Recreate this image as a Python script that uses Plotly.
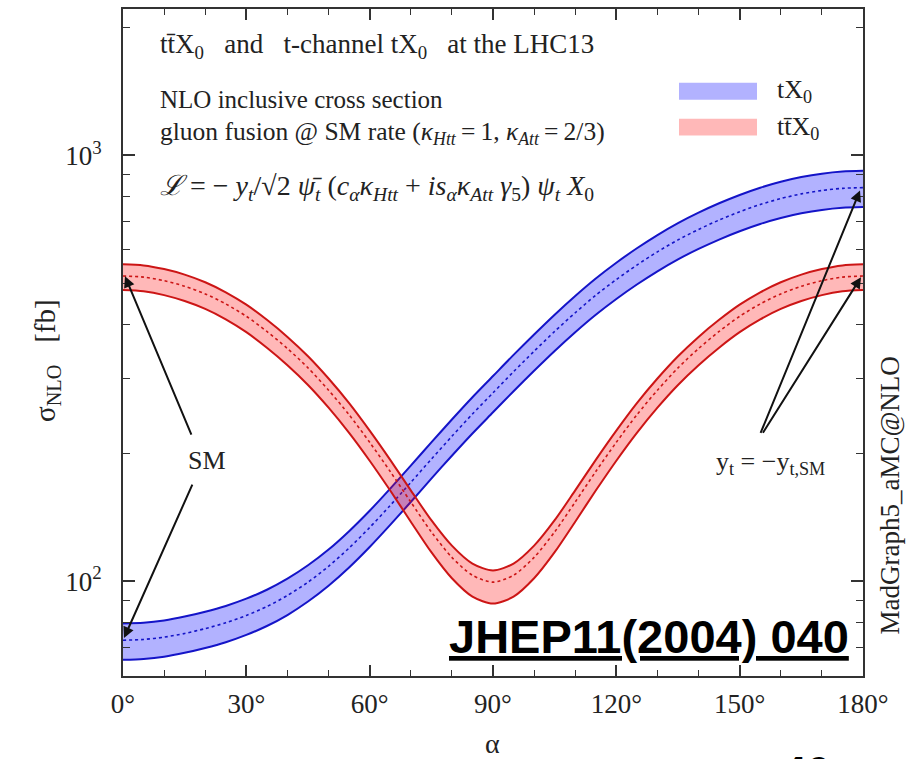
import math
import plotly.graph_objects as go

# ---------------- data ----------------
alpha = [0, 5, 10, 15, 20, 25, 30, 35, 40, 45, 50, 55, 60, 65, 70, 75, 80, 85, 90,
         95, 100, 105, 110, 115, 120, 125, 130, 135, 140, 145, 150, 155, 160, 165, 170, 175, 180]

# t-channel tX0 (blue band), fb
tx_central = [72.7, 73.0, 73.9, 75.4, 77.4, 79.9, 83.1, 87.2, 92.6, 99.5, 108.4, 119.7, 133.7,
              150.7, 170.6, 193.5, 219.0, 247.0, 277.0, 310.6, 346.9, 386.1, 427.2, 469.6,
              511.3, 552.9, 593.9, 633.5, 670.3, 705.1, 737.5, 767.0, 792.1, 812.4, 827.5,
              837.1, 840.3]
tx_upper = [79.6, 79.9, 80.9, 82.6, 84.8, 87.5, 91.0, 95.5, 101.4, 109.0, 118.7, 131.1, 146.4,
            165.0, 186.8, 211.9, 239.8, 270.5, 303.3, 340.1, 379.9, 422.8, 467.8, 514.2,
            559.9, 605.4, 650.3, 693.7, 734.0, 772.1, 807.6, 839.9, 867.3, 889.6, 906.1,
            916.6, 920.1]
tx_lower = [65.4, 65.7, 66.5, 67.9, 69.7, 71.9, 74.8, 78.5, 83.3, 89.6, 97.6, 107.7, 120.3,
            135.6, 153.5, 174.2, 197.1, 222.3, 249.3, 279.5, 312.2, 347.5, 384.5, 422.6,
            460.2, 497.6, 534.5, 570.2, 603.3, 634.6, 663.8, 690.3, 712.9, 731.2, 744.8,
            753.4, 756.3]

# ttX0 (red band), fb
ttx_central = [521, 518, 508, 493, 473, 448, 419, 386, 352, 317, 281, 246, 212, 181, 153.5,
               130.6, 113.8, 103.3, 99.5, 103.3, 113.8, 130.6, 153.5, 181, 212, 246, 281, 317,
               352, 386, 419, 448, 473, 493, 508, 518, 521]
ttx_upper = [554.9, 551.7, 541.0, 525.0, 503.7, 477.1, 446.2, 411.1, 374.9, 337.6, 299.3,
             262.0, 225.8, 192.8, 163.5, 139.1, 121.2, 110.0, 106.0, 110.0, 121.2, 139.1,
             163.5, 192.8, 225.8, 262.0, 299.3, 337.6, 374.9, 411.1, 446.2, 477.1, 503.7,
             525.0, 541.0, 551.7, 554.9]
ttx_lower = [483.0, 479.7, 469.9, 455.0, 436.1, 412.2, 384.6, 353.6, 321.7, 289.1, 255.7,
             223.1, 191.9, 163.3, 138.0, 117.0, 101.6, 92.0, 88.6, 92.0, 101.6, 117.0, 138.0,
             163.3, 191.9, 223.1, 255.7, 289.1, 321.7, 353.6, 384.6, 412.2, 436.1, 455.0,
             469.9, 479.7, 483.0]

x_ticks = [0, 30, 60, 90, 120, 150, 180]
x_minor = [10, 20, 40, 50, 70, 80, 100, 110, 130, 140, 160, 170]
y_ticks = [100, 1000]
y_ticklabels = ["10<sup>2</sup>", "10<sup>3</sup>"]
y_minor = [60, 70, 80, 90, 200, 300, 400, 500, 600, 700, 800, 900, 2000]

# ---------------- styling ----------------
SERIF = "Liberation Serif"
BLUE_FILL = "rgba(0,0,255,0.30)"
RED_FILL = "rgba(255,0,0,0.28)"
BLUE_LINE = "#1414c8"
RED_LINE = "#cc1515"

L, R, T, B = 123, 57, 7, 83
W, H = 920, 759
PW, PH = W - L - R, H - T - B


def P(xpx, ypx):
    return (xpx - L) / PW, (H - B - ypx) / PH


fig = go.Figure()

for lower, upper, central, fillc, linec in [
    (tx_lower, tx_upper, tx_central, BLUE_FILL, BLUE_LINE),
    (ttx_lower, ttx_upper, ttx_central, RED_FILL, RED_LINE),
]:
    fig.add_trace(go.Scatter(x=alpha, y=lower, mode="lines",
                             line=dict(color=linec, width=2, shape="spline", smoothing=0.8),
                             showlegend=False, hoverinfo="skip"))
    fig.add_trace(go.Scatter(x=alpha, y=upper, mode="lines", fill="tonexty", fillcolor=fillc,
                             line=dict(color=linec, width=2, shape="spline", smoothing=0.8),
                             showlegend=False, hoverinfo="skip"))
    fig.add_trace(go.Scatter(x=alpha, y=central, mode="lines",
                             line=dict(color=linec, width=1.6, dash="dot", shape="spline",
                                       smoothing=0.8),
                             showlegend=False, hoverinfo="skip"))

axis_common = dict(showline=True, linecolor="#333333", linewidth=1.6, mirror="ticks",
                   ticks="inside", tickcolor="#333333", showgrid=False, zeroline=False,
                   tickfont=dict(family=SERIF, size=27, color="#222222"))

fig.update_xaxes(range=[0, 180], tickmode="array", tickvals=x_ticks,
                 ticktext=[f"{v}°" for v in x_ticks], ticklen=11, tickwidth=1.6,
                 ticklabelstandoff=3,
                 minor=dict(tickmode="array", tickvals=x_minor, ticks="inside", ticklen=6,
                            tickcolor="#333333", tickwidth=1.3, showgrid=False),
                 **axis_common)
fig.update_yaxes(type="log", range=[math.log10(59.9), math.log10(2208)], tickmode="array",
                 tickvals=y_ticks, ticktext=y_ticklabels, ticklen=12, tickwidth=1.6,
                 ticklabelstandoff=14,
                 minor=dict(tickmode="array", tickvals=y_minor, ticks="inside", ticklen=7,
                            tickcolor="#333333", tickwidth=1.3, showgrid=False),
                 **axis_common)

ann = []


def text(xpx, ypx, s, size, xanchor="left", angle=0, family=SERIF, color="#222222"):
    x, y = P(xpx, ypx)
    ann.append(dict(x=x, y=y, xref="paper", yref="paper", text=s, showarrow=False,
                    xanchor=xanchor, yanchor="middle", textangle=angle,
                    font=dict(family=family, size=size, color=color)))


NB = "\u00a0"
text(158, 44, f"tt\u0304X<sub>0</sub>{NB*3}and{NB*3}t-channel tX<sub>0</sub>{NB*3}at the LHC13", 27)
text(158, 98, "NLO inclusive cross section", 25)
text(158, 131, "gluon fusion @ SM rate (<i>κ<sub>Htt</sub></i>\u2009=\u20091, <i>κ<sub>Att</sub></i>\u2009=\u20092/3)", 25.5)
text(158, 186, f"<i>ℒ</i>{NB}={NB}−{NB}<i>y<sub>t</sub></i>/√2{NB}<i>ψ\u0304<sub>t</sub></i>{NB}(<i>c<sub>α</sub>κ<sub>Htt</sub></i>"
     f"{NB}+{NB}<i>is<sub>α</sub>κ<sub>Att</sub>{NB}γ</i><sub>5</sub>){NB}<i>ψ<sub>t</sub>{NB}X</i><sub>0</sub>", 28)
text(775, 89, "tX<sub>0</sub>", 26)
text(775, 126, "tt\u0304X<sub>0</sub>", 26)
text(207, 460, "SM", 26, xanchor="center")
text(770, 462, "y<sub>t</sub> = −y<sub>t,SM</sub>", 26, xanchor="center")
text(890, 495, "MadGraph5_aMC@NLO", 27, xanchor="center", angle=-90)
text(47, 360, f"σ<sub>NLO</sub>{NB*3}[fb]", 29, xanchor="center", angle=-90)
text(492, 744, "α", 28, xanchor="center")
text(851, 636, "<b><u>JHEP11(2004) 040</u></b>", 47, xanchor="right",
     family="Liberation Sans", color="#000000")
text(806, 773, "<b>40</b>", 44, xanchor="center", family="Liberation Sans", color="#000000")

# arrows (head pixel position, tail offset in pixels)
for hx, hy, ax, ay in [(125, 275, 67, 160), (124, 638, 69, -155),
                       (860, 189, -100, 244), (861, 276, -99, 157)]:
    x, y = P(hx, hy)
    ann.append(dict(x=x, y=y, xref="paper", yref="paper", text="", showarrow=True,
                    ax=ax, ay=ay, arrowhead=2, arrowsize=1.1, arrowwidth=2,
                    arrowcolor="#111111", standoff=0))

shapes = []
for y0, y1, c in [(81, 98, BLUE_FILL), (117, 134, RED_FILL)]:
    x0p, y0p = P(679, y1)
    x1p, y1p = P(757, y0)
    shapes.append(dict(type="rect", xref="paper", yref="paper", x0=x0p, x1=x1p, y0=y0p,
                       y1=y1p, fillcolor=c, line=dict(width=0)))

fig.update_layout(width=W, height=H, margin=dict(l=L, r=R, t=T, b=B),
                  paper_bgcolor="white", plot_bgcolor="white",
                  annotations=ann, shapes=shapes, showlegend=False)

fig.write_html("out.html")
